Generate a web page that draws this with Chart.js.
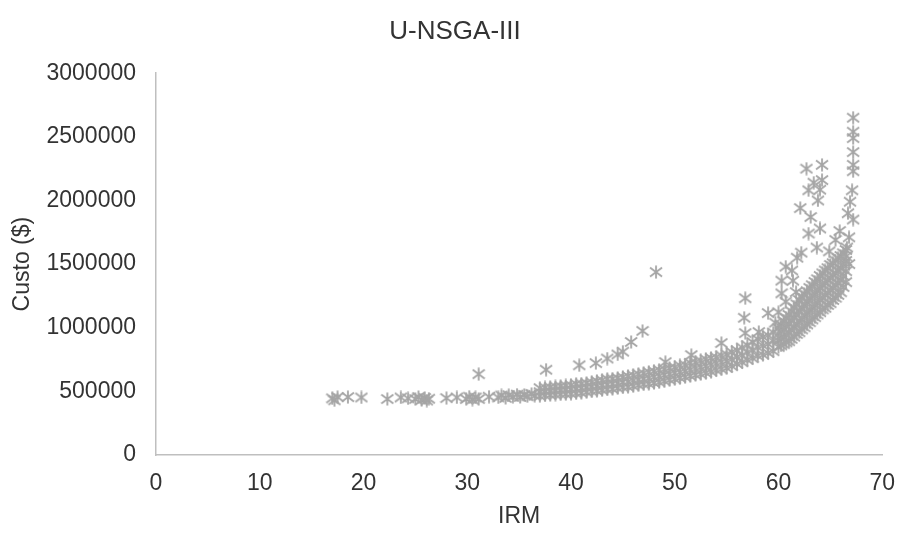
<!DOCTYPE html>
<html><head><meta charset="utf-8">
<script src="https://cdn.jsdelivr.net/npm/chart.js@4.4.0/dist/chart.umd.min.js"></script>
<style>html,body{margin:0;padding:0;background:#fff}#wrap{width:910px;height:533px}</style>
</head><body><div id="wrap"><canvas id="c" width="910" height="533"></canvas></div>
<script>
const chartTitle = 'U-NSGA-III';
const xTitle = 'IRM';
const yTitle = 'Custo ($)';
const xTicks = [0, 10, 20, 30, 40, 50, 60, 70];
const yTicks = [0, 500000, 1000000, 1500000, 2000000, 2500000, 3000000];

// sparse left part of the front
const leftIRM = [17.0, 17.2, 17.5, 18.5, 19.8, 22.3, 23.6, 24.3, 25.0, 25.3, 25.6, 25.9, 26.1, 26.3, 28.0, 29.0, 29.9, 30.2, 30.5, 30.8, 31.1, 32.1, 33.0, 33.3, 33.7, 34.0, 34.4, 34.8, 35.1, 35.5, 35.8, 36.2, 36.5];
const leftCusto = [445000, 430000, 455000, 455000, 452000, 440000, 452000, 445000, 440000, 456000, 432000, 448000, 428000, 442000, 447000, 452000, 440000, 458000, 436000, 452000, 440000, 458000, 452000, 468000, 448000, 470000, 458000, 474000, 456000, 472000, 462000, 480000, 466000];

// dense band, IRM 37 - 59.5 (lower edge, middle, upper edge)
const bandIRM = [37.0, 37.5, 38.0, 38.5, 39.0, 39.5, 40.0, 40.5, 41.0, 41.5, 42.0, 42.5, 43.0, 43.5, 44.0, 44.5, 45.0, 45.5, 46.0, 46.5, 47.0, 47.5, 48.0, 48.5, 49.0, 49.5, 50.0, 50.5, 51.0, 51.5, 52.0, 52.5, 53.0, 53.5, 54.0, 54.5, 55.0, 55.5, 56.0, 56.5, 57.0, 57.5, 58.0, 58.5, 59.0, 59.5];
const bandLower = [463000, 468000, 471000, 474000, 476000, 478000, 481000, 484000, 488000, 494000, 499000, 504000, 509000, 515000, 519000, 525000, 531000, 535000, 541000, 549000, 555000, 559000, 566000, 572000, 580000, 590000, 596000, 606000, 612000, 621000, 629000, 635000, 645000, 655000, 665000, 674000, 684000, 698000, 716000, 729000, 747000, 761000, 779000, 788000, 802000, 816000];
const bandMid = [494000, 500000, 502000, 508000, 509000, 515000, 517000, 521000, 527000, 533000, 539000, 541000, 551000, 553000, 559000, 564000, 574000, 576000, 586000, 592000, 598000, 604000, 614000, 619000, 629000, 635000, 645000, 651000, 661000, 670000, 680000, 690000, 700000, 710000, 720000, 729000, 739000, 753000, 771000, 784000, 806000, 824000, 845000, 859000, 873000, 894000];
const bandUpper = [525000, 531000, 533000, 539000, 541000, 547000, 549000, 559000, 561000, 566000, 572000, 582000, 588000, 598000, 600000, 606000, 612000, 621000, 627000, 637000, 643000, 653000, 659000, 669000, 674000, 684000, 690000, 704000, 710000, 724000, 729000, 743000, 753000, 763000, 769000, 782000, 792000, 810000, 824000, 845000, 863000, 888000, 910000, 928000, 941000, 963000];

// steep part, IRM 60 - 66.5 (four rows from lower edge to upper edge)
const steepIRM = [60.0, 60.25, 60.5, 60.75, 61.0, 61.25, 61.5, 61.75, 62.0, 62.25, 62.5, 62.75, 63.0, 63.25, 63.5, 63.75, 64.0, 64.25, 64.5, 64.75, 65.0, 65.25, 65.5, 65.75, 66.0, 66.25, 66.5];
const steepRow1 = [848000, 861000, 871000, 885000, 894000, 912000, 930000, 951000, 965000, 987000, 1004000, 1026000, 1044000, 1065000, 1083000, 1104000, 1122000, 1144000, 1157000, 1179000, 1193000, 1218000, 1236000, 1258000, 1279000, 1320000, 1358000];
const steepRow2 = [899000, 914000, 933000, 947000, 964000, 983000, 1008000, 1028000, 1051000, 1070000, 1092000, 1112000, 1135000, 1153000, 1177000, 1195000, 1218000, 1237000, 1256000, 1274000, 1294000, 1313000, 1335000, 1353000, 1375000, 1407000, 1444000];
const steepRow3 = [947000, 971000, 991000, 1013000, 1031000, 1059000, 1081000, 1108000, 1132000, 1157000, 1177000, 1201000, 1222000, 1246000, 1266000, 1290000, 1311000, 1335000, 1351000, 1373000, 1392000, 1412000, 1429000, 1451000, 1468000, 1498000, 1525000];
const steepRow4 = [998000, 1024000, 1053000, 1075000, 1101000, 1130000, 1159000, 1185000, 1218000, 1240000, 1265000, 1287000, 1313000, 1334000, 1360000, 1381000, 1407000, 1428000, 1450000, 1468000, 1493000, 1507000, 1528000, 1546000, 1564000, 1585000, 1611000];

// isolated points above the front
const outIRM = [31.1, 37.6, 40.8, 42.4, 43.5, 44.5, 45.0, 45.8, 46.9, 48.2, 49.1, 51.6, 54.5, 56.8, 56.7, 56.8, 58.1, 59.0, 59.7, 60.0, 60.7, 60.3, 61.4, 60.7, 61.3, 61.8, 62.2, 63.7, 64.9, 62.9, 64.0, 63.1, 62.1, 63.8, 62.9, 64.0, 64.2, 63.4, 62.7, 64.2, 60.3, 61.7, 65.5, 65.9, 66.8, 67.2, 67.2, 67.2, 67.2, 67.2, 67.2, 67.1, 66.9, 66.7, 67.2, 66.8, 66.6, 66.5];
const outCusto = [635000, 670000, 705000, 722000, 758000, 790000, 812000, 888000, 975000, 1437000, 730000, 785000, 880000, 958000, 1078000, 1232000, 966000, 1115000, 1040000, 1122000, 1205000, 1370000, 1370000, 1480000, 1450000, 1550000, 1590000, 1630000, 1600000, 1740000, 1780000, 1870000, 1940000, 2000000, 2080000, 2085000, 2160000, 2140000, 2250000, 2280000, 1270000, 1280000, 1690000, 1760000, 1500000, 2650000, 2540000, 2490000, 2380000, 2280000, 2230000, 2080000, 1990000, 1900000, 1850000, 1710000, 1630000, 1560000];

const points = [];
leftIRM.forEach((x, i) => points.push({x, y: leftCusto[i]}));
bandIRM.forEach((x, i) => {
  points.push({x, y: bandLower[i]});
  points.push({x, y: bandMid[i]});
  points.push({x, y: bandUpper[i]});
});
steepIRM.forEach((x, i) => {
  points.push({x, y: steepRow1[i]});
  points.push({x, y: steepRow2[i]});
  points.push({x, y: steepRow3[i]});
  points.push({x, y: steepRow4[i]});
});
outIRM.forEach((x, i) => points.push({x, y: outCusto[i]}));

// Excel-like asterisk marker
const star = document.createElement('canvas');
star.width = 14; star.height = 14;
(function () {
  const g = star.getContext('2d');
  g.strokeStyle = '#a5a5a5';
  g.lineWidth = 1.8;
  g.lineCap = 'butt';
  g.beginPath();
  g.moveTo(7, 0.5); g.lineTo(7, 13.5);
  g.moveTo(1, 2.5); g.lineTo(13, 11.5);
  g.moveTo(1, 11.5); g.lineTo(13, 2.5);
  g.stroke();
})();

const FONT = '"Liberation Sans", Arial, sans-serif';
const TXT = '#333333';

new Chart(document.getElementById('c'), {
  type: 'scatter',
  data: { datasets: [{ data: points, pointStyle: star, pointRadius: 6, borderColor: '#a5a5a5', backgroundColor: '#a5a5a5' }] },
  options: {
    responsive: false, animation: false, devicePixelRatio: 1,
    layout: { padding: { left: 26, right: 26, top: 0, bottom: 0 } },
    plugins: {
      legend: { display: false }, tooltip: { enabled: false },
      title: { display: true, text: chartTitle, color: TXT, font: { family: FONT, size: 26, weight: 'normal' }, padding: { top: 16, bottom: 26 } }
    },
    scales: {
      x: {
        type: 'linear', min: 0, max: 70,
        afterBuildTicks: s => { s.ticks = xTicks.map(v => ({ value: v })); },
        grid: { display: false, drawTicks: false },
        border: { display: true, color: '#bfbfbf', width: 1.5 },
        ticks: { color: TXT, font: { family: FONT, size: 23 }, padding: 15, maxRotation: 0 },
        title: { display: true, text: xTitle, color: TXT, font: { family: FONT, size: 23 }, padding: { top: 0, bottom: 3 } },
        afterFit: s => { s.height = 78; }
      },
      y: {
        type: 'linear', min: 0, max: 3000000,
        afterBuildTicks: s => { s.ticks = yTicks.map(v => ({ value: v })); },
        grid: { display: false, drawTicks: false },
        border: { display: true, color: '#bfbfbf', width: 1.5 },
        ticks: { color: TXT, font: { family: FONT, size: 23 }, padding: 20, callback: v => String(v) },
        title: { display: true, text: yTitle, color: TXT, font: { family: FONT, size: 23 }, padding: { top: -17, bottom: 0 } },
        afterFit: s => { s.width = 130; }
      }
    }
  }
});
</script>
</body></html>
